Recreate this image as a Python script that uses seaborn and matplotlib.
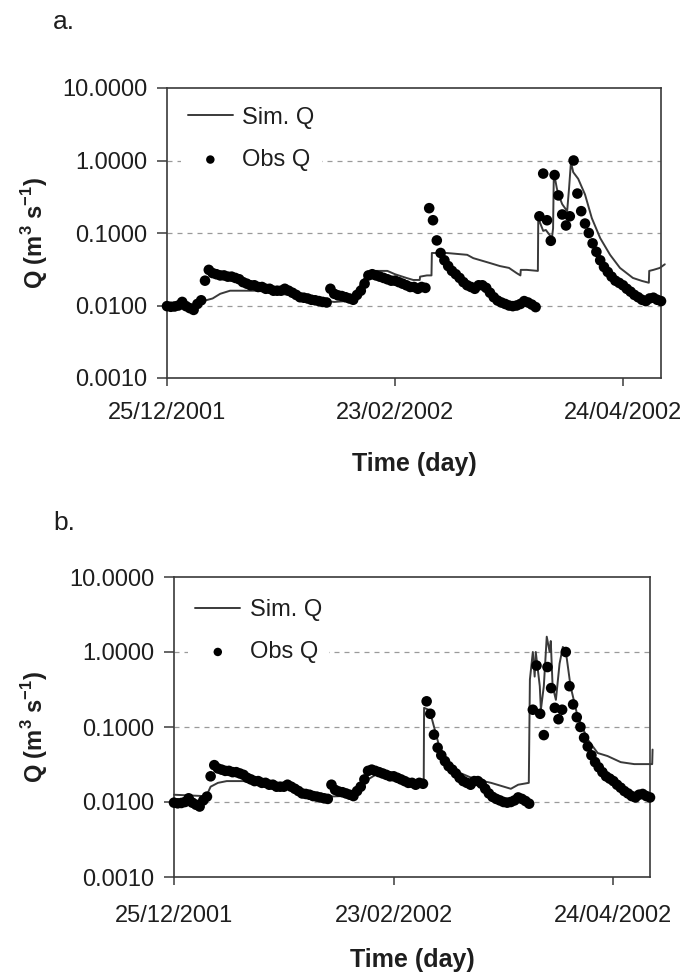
import numpy as np
import pandas as pd
import matplotlib
matplotlib.use("Agg")
import matplotlib.pyplot as plt
import seaborn as sns
from matplotlib.ticker import FixedLocator, FixedFormatter, NullLocator

# ---------------- data ----------------
START = pd.Timestamp("2001-12-25")
END_DAY = 130
tick_dates = ["2001-12-25", "2002-02-23", "2002-04-24"]
tick_labels = ["25/12/2001", "23/02/2002", "24/04/2002"]
y_ticks = [0.001, 0.01, 0.1, 1.0, 10.0]
y_tick_labels = ["0.0010", "0.0100", "0.1000", "1.0000", "10.0000"]

# observed discharge, one value per day from 25/12/2001
obs_q = [
    0.0098, 0.0096, 0.0097, 0.0100, 0.0112, 0.0098, 0.0092, 0.0087, 0.0105, 0.0118,
    0.022, 0.031, 0.028, 0.027, 0.026, 0.026, 0.025, 0.025, 0.024, 0.023,
    0.021, 0.020, 0.019, 0.019, 0.018, 0.018, 0.017, 0.017, 0.016, 0.016,
    0.016, 0.017, 0.016, 0.015, 0.014, 0.013, 0.0128, 0.0125, 0.012, 0.0118,
    0.0115, 0.0112, 0.011, 0.017, 0.0145, 0.0138, 0.0135, 0.013, 0.0125, 0.012,
    0.014, 0.016, 0.020, 0.026, 0.027, 0.026, 0.025, 0.024, 0.023, 0.022,
    0.022, 0.021, 0.020, 0.019, 0.018, 0.018, 0.017, 0.018, 0.0175, 0.22,
    0.15, 0.079, 0.053, 0.042, 0.035, 0.030, 0.027, 0.024, 0.021, 0.019,
    0.018, 0.017, 0.019, 0.019, 0.0175, 0.015, 0.013, 0.0117, 0.011, 0.0105,
    0.010, 0.0098, 0.010, 0.0105, 0.0115, 0.011, 0.0103, 0.0095, 0.17, 0.66,
    0.15, 0.078, 0.63, 0.33, 0.18, 0.127, 0.17, 1.0, 0.35, 0.20,
    0.135, 0.10, 0.072, 0.055, 0.042, 0.034, 0.029, 0.025, 0.022, 0.0205,
    0.019, 0.017, 0.0155, 0.014, 0.013, 0.012, 0.0115, 0.0125, 0.0128, 0.012,
    0.0115,
]
obs_day = list(range(len(obs_q)))

# simulated discharge, panel a (day offset, Q)
sim_a_day = [0, 8, 9, 10, 12, 14, 16.6, 24, 28, 32, 36, 40, 44, 47, 49, 50, 51.5, 53, 54.2, 58,
             60, 63, 64.8, 66.5, 66.6, 68.4, 69.6, 69.7, 73.6, 79, 80.6, 85, 87.6, 90, 92, 93,
             93.1, 94.7, 97.6, 97.7, 99, 99.7, 101.3, 101.6, 101.8, 102.6, 103.2, 104, 105.3,
             105.8, 106.3, 106.9, 108.2, 110, 111.8, 114, 116.6, 119.2, 122.6, 125, 126.8,
             126.9, 128, 129.7, 131]
sim_a_q = [0.0095, 0.0095, 0.0112, 0.0117, 0.0125, 0.0145, 0.016, 0.016, 0.015, 0.014,
           0.0128, 0.0118, 0.0112, 0.0115, 0.013, 0.016, 0.022, 0.028, 0.030, 0.030,
           0.027, 0.024, 0.0225, 0.0225, 0.025, 0.026, 0.026, 0.053, 0.053, 0.05,
           0.045, 0.0385, 0.035, 0.033, 0.028, 0.026, 0.031, 0.031, 0.030, 0.16,
           0.107, 0.11, 0.085, 0.116, 0.69, 0.41, 0.32, 0.25, 0.2, 0.41,
           0.95, 0.69, 0.56, 0.34, 0.16, 0.085, 0.05, 0.033, 0.024, 0.0218,
           0.0206, 0.03, 0.031, 0.033, 0.037]

# simulated discharge, panel b (day offset, Q)
sim_b_day = [0, 8, 9, 10, 12, 14.4, 18, 22, 26, 30, 34, 38, 42, 46, 49, 51, 53, 55, 57, 61.4,
             67.6, 68.2, 68.3, 69.5, 70.3, 72.2, 74.9, 77.6, 82.3, 86.6, 92, 94, 96.9, 97.2,
             98, 98.5, 98.8, 99.9, 100.2, 101, 101.8, 102.6, 102.9, 103.4, 104.3, 105.3,
             106.2, 107.2, 108.3, 110.2, 113, 115.7, 118.4, 122, 125.7, 130.6, 130.7]
sim_b_q = [0.0125, 0.012, 0.0125, 0.016, 0.018, 0.019, 0.019, 0.019, 0.018, 0.016,
           0.0145, 0.013, 0.0118, 0.012, 0.0125, 0.015, 0.02, 0.023, 0.022, 0.020,
           0.018, 0.018, 0.18, 0.17, 0.136, 0.061, 0.03, 0.025, 0.02, 0.018,
           0.015, 0.017, 0.018, 0.43, 1.0, 0.47, 1.0, 0.35, 0.17, 0.35,
           1.6, 1.0, 1.4, 0.35, 0.23, 0.7, 1.17, 0.87, 0.35, 0.14,
           0.068, 0.045, 0.041, 0.034, 0.032, 0.032, 0.05]

# ---------------- style ----------------
sns.set_style("ticks")
plt.rcParams["font.family"] = ["Liberation Sans", "DejaVu Sans"]
plt.rcParams["mathtext.fontset"] = "custom"
plt.rcParams["mathtext.rm"] = "Liberation Sans"
plt.rcParams["mathtext.bf"] = "Liberation Sans:bold"

DARK = "#3a3a3a"
TXT = "#1e1e1e"


def to_dates(days):
    return START + pd.to_timedelta(np.asarray(days, dtype=float), unit="D")


def panel(ax, sim_day, sim_q, ylab_x, xlab_y, leg_anchor, xpad):
    sim_df = pd.DataFrame({"date": to_dates(sim_day), "Q": sim_q})
    obs_df = pd.DataFrame({"date": to_dates(obs_day), "Q": obs_q})
    sns.lineplot(data=sim_df, x="date", y="Q", ax=ax, color=DARK, lw=1.4,
                 estimator=None, sort=False, label="Sim. Q", clip_on=False, zorder=2)
    sns.scatterplot(data=obs_df, x="date", y="Q", ax=ax, color="black", s=58,
                    edgecolor="none", linewidth=0, label="Obs Q", clip_on=False, zorder=3)
    ax.set_yscale("log")
    ax.set_ylim(0.001, 10)
    ax.set_xlim(START, START + pd.Timedelta(days=END_DAY))

    ax.yaxis.set_major_locator(FixedLocator(y_ticks))
    ax.yaxis.set_major_formatter(FixedFormatter(y_tick_labels))
    ax.yaxis.set_minor_locator(NullLocator())
    xt = matplotlib.dates.date2num(pd.to_datetime(tick_dates))
    ax.xaxis.set_major_locator(FixedLocator(xt))
    ax.xaxis.set_major_formatter(FixedFormatter(tick_labels))
    ax.xaxis.set_minor_locator(NullLocator())

    for g in [0.01, 0.1, 1.0]:
        ax.axhline(g, color="#9a9a9a", lw=0.9, ls=(0, (4, 4)), zorder=0.5)

    for sp in ax.spines.values():
        sp.set_visible(True)
        sp.set_color(DARK)
        sp.set_linewidth(1.2)

    ax.tick_params(axis="y", direction="out", length=7, width=1.1, pad=7,
                   labelsize=17, labelcolor=TXT, color=DARK)
    ax.tick_params(axis="x", direction="out", length=6, width=1.1, pad=xpad,
                   labelsize=17, labelcolor=TXT, color=DARK)

    ax.set_ylabel(r"Q (m$^{\mathbf{3}}$ s$^{\mathbf{-1}}$)", fontsize=17,
                  fontweight="bold", color=TXT)
    ax.yaxis.set_label_coords(ylab_x, 0.5)
    ax.set_xlabel("Time (day)", fontsize=18, fontweight="bold", color=TXT)
    ax.xaxis.set_label_coords(0.5, xlab_y)

    leg = ax.legend(loc="upper left", bbox_to_anchor=leg_anchor, frameon=True,
                    facecolor="white", edgecolor="none", framealpha=1,
                    fontsize=17, handlelength=1.9, handletextpad=0.4,
                    labelspacing=0.85, borderpad=0.3, borderaxespad=0,
                    markerscale=0.8)
    for t in leg.get_texts():
        t.set_color(TXT)


fig = plt.figure(figsize=(6.83, 9.73), dpi=100)
ax_a = fig.add_axes([167 / 683, 1 - 378 / 973, 494 / 683, 290 / 973])
ax_b = fig.add_axes([174 / 683, 1 - 877 / 973, 476 / 683, 300 / 973])

panel(ax_a, sim_a_day, sim_a_q, -0.237, -0.255, (0.028, 0.96), 11)
panel(ax_b, sim_b_day, sim_b_q, -0.26, -0.238, (0.03, 0.95), 14)

fig.text(53 / 683, 1 - 29 / 973, "a.", fontsize=19, color=TXT, va="baseline", ha="left")
fig.text(53 / 683, 1 - 530 / 973, "b.", fontsize=19, color=TXT, va="baseline", ha="left")

fig.savefig("out.png", dpi=100)
